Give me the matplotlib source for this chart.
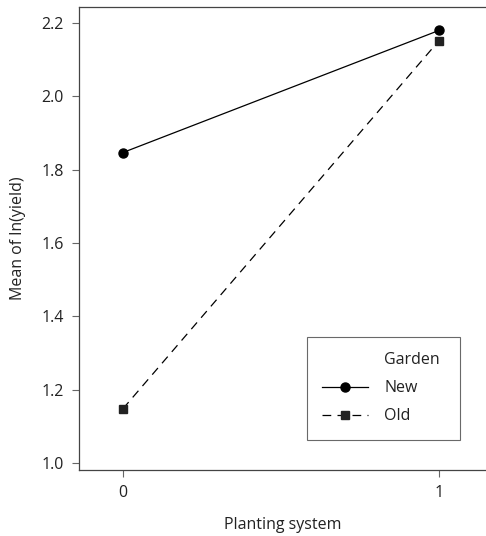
import matplotlib
matplotlib.use("Agg")
import matplotlib.pyplot as plt
from matplotlib.lines import Line2D

plt.rcParams['font.family'] = ['Open Sans', 'DejaVu Sans']

planting = [0, 1]
new_vals = [1.847, 2.180]
old_vals = [1.148, 2.152]
x_ticks = [0, 1]
y_ticks = [1.0, 1.2, 1.4, 1.6, 1.8, 2.0, 2.2]
legend_title = 'Garden'
series_names = ['New', 'Old']

FS = 11.5
fig = plt.figure(figsize=(4.86, 5.36), dpi=100)
ax = fig.add_axes([79/486, 66/536, 1 - 79/486, 463/536])

h_new, = ax.plot(planting, new_vals, color='black', lw=0.9, marker='o', markersize=6.5, label=series_names[0])
h_old, = ax.plot(planting, old_vals, color='black', lw=0.9, ls=(0, (7, 5)), marker='s', markersize=5.5,
                 markerfacecolor='#222222', markeredgecolor='#222222', label=series_names[1])

ax.set_xlim(-0.139, 1.149)
ax.set_ylim(0.981, 2.244)
ax.set_xticks(x_ticks)
ax.set_xticklabels([str(t) for t in x_ticks])
ax.set_yticks(y_ticks)
ax.set_yticklabels([f"{t:.1f}" for t in y_ticks])

for s in ['left', 'top', 'bottom']:
    ax.spines[s].set_color('#444444')
    ax.spines[s].set_linewidth(0.9)
ax.spines['right'].set_visible(False)
ax.tick_params(direction='out', length=5, width=0.8, color='#666666', labelsize=FS, pad=6, labelcolor='#222222')

ax.set_xlabel('Planting system', fontsize=FS, labelpad=11, color='#222222')
ax.set_ylabel('Mean of ln(yield)', fontsize=FS, labelpad=11, color='#222222')

# legend with title aligned to the labels (blank handle row)
blank = Line2D([], [], color='none')
leg = ax.legend([blank, h_new, h_old], [legend_title] + series_names,
                loc='upper left', bbox_to_anchor=((307-79)/407, (470-337)/463, (460-307)/407, 0),
                mode='expand', frameon=True, fancybox=False, edgecolor='#444444', fontsize=FS,
                handlelength=2.9, borderpad=0.95, labelspacing=0.76, handletextpad=1.0, borderaxespad=0,
                markerscale=1.0)
leg.get_frame().set_linewidth(0.8)
for t in leg.get_texts():
    t.set_color('#222222')

fig.savefig('out.png', dpi=100)
